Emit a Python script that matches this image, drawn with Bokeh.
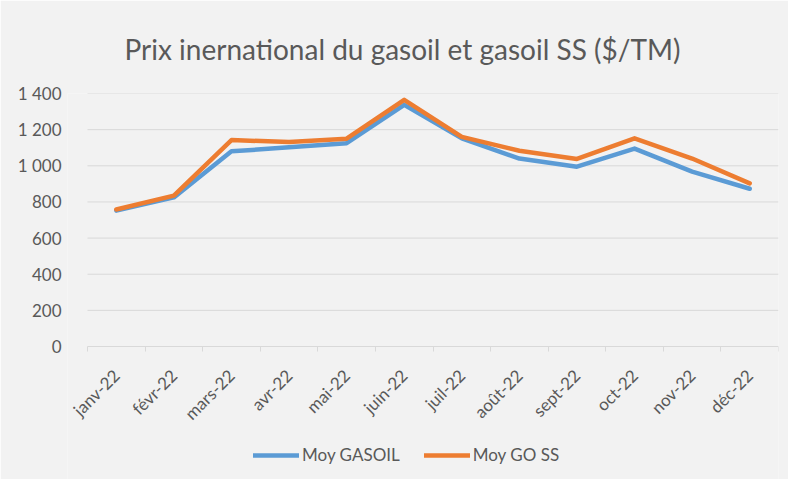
from bokeh.plotting import figure
from bokeh.models import FixedTicker, Range1d, Legend, LegendItem
from bokeh.embed import file_html
from bokeh.resources import INLINE
import math

months = ["janv-22", "févr-22", "mars-22", "avr-22", "mai-22", "juin-22",
          "juil-22", "août-22", "sept-22", "oct-22", "nov-22", "déc-22"]
gasoil = [752, 825, 1080, 1102, 1125, 1337, 1152, 1040, 995, 1095, 968, 873]
go_ss = [758, 835, 1142, 1132, 1150, 1365, 1160, 1083, 1038, 1152, 1040, 903]
y_ticks = [0, 200, 400, 600, 800, 1000, 1200, 1400]
y_labels = ["0", "200", "400", "600", "800", "1 000", "1 200", "1 400"]

x = list(range(len(months)))
n = len(months)
FONT = "Lato"
GREY = "#595959"
GRID = "#D9D9D9"

# frame extends below the x axis (legend room) and a little to the left
# (room for the first rotated label); axis sits at y=0
Y_MIN, Y_MAX = -736, 1400
X_MIN, X_MAX = -0.5 - 20 / 57.58, n - 0.5

p = figure(frame_width=711, frame_height=386, x_range=Range1d(X_MIN, X_MAX),
           y_range=Range1d(Y_MIN, Y_MAX), output_backend="svg", toolbar_location=None,
           min_border_left=67, min_border_right=10, min_border_top=93,
           min_border_bottom=0, background_fill_color="#F2F2F2",
           border_fill_color="#F2F2F2", outline_line_color=None)

p.title.text = "Prix inernational du gasoil et gasoil SS ($/TM)"
p.title.align = "left"
p.title.offset = 57
p.title.text_font = FONT
p.title.text_font_size = "28px"
p.title.text_font_style = "normal"
p.title.text_color = GREY
p.title.standoff = 56

# horizontal gridlines (the one at 0 doubles as the axis line)
p.segment(x0=[-0.5] * len(y_ticks), x1=[n - 0.5] * len(y_ticks),
          y0=y_ticks, y1=y_ticks, line_color=GRID, line_width=1)

r1 = p.line(x, gasoil, line_color="#5B9BD5", line_width=4.5, line_join="round", line_cap="round")
r2 = p.line(x, go_ss, line_color="#ED7D31", line_width=4.5, line_join="round", line_cap="round")

# x axis
p.xaxis.fixed_location = 0
p.xaxis.ticker = FixedTicker(ticks=x, minor_ticks=[i - 0.5 for i in range(n + 1)])
p.xaxis.major_label_overrides = {i: m for i, m in enumerate(months)}
p.xaxis.major_label_orientation = math.pi / 4
p.xaxis.major_tick_line_color = None
p.xaxis.minor_tick_line_color = GRID
p.xaxis.minor_tick_out = 5
p.xaxis.minor_tick_in = 0
p.xaxis.axis_line_color = None
p.xaxis.major_label_text_font = FONT
p.xaxis.major_label_text_font_size = "17px"
p.xaxis.major_label_text_color = GREY
p.xaxis.major_label_standoff = 20

# y axis
p.yaxis.ticker = FixedTicker(ticks=y_ticks)
p.yaxis.major_label_overrides = {t: l for t, l in zip(y_ticks, y_labels)}
p.yaxis.axis_line_color = None
p.yaxis.major_tick_line_color = None
p.yaxis.minor_tick_line_color = None
p.yaxis.major_label_text_font = FONT
p.yaxis.major_label_text_font_size = "17px"
p.yaxis.major_label_text_color = GREY
p.yaxis.major_label_standoff = 0

p.xgrid.grid_line_color = None
p.ygrid.grid_line_color = None

legend = Legend(items=[LegendItem(label="Moy GASOIL", renderers=[r1]),
                       LegendItem(label="Moy GO SS", renderers=[r2])],
                orientation="horizontal", location=(186, 14),
                label_text_font=FONT, label_text_font_size="17px",
                label_text_color=GREY, glyph_width=46, glyph_height=20,
                label_standoff=3, spacing=24, padding=0, margin=0,
                background_fill_alpha=0, border_line_color=None)
p.add_layout(legend)

open("out.html", "w").write(file_html(p, INLINE))
